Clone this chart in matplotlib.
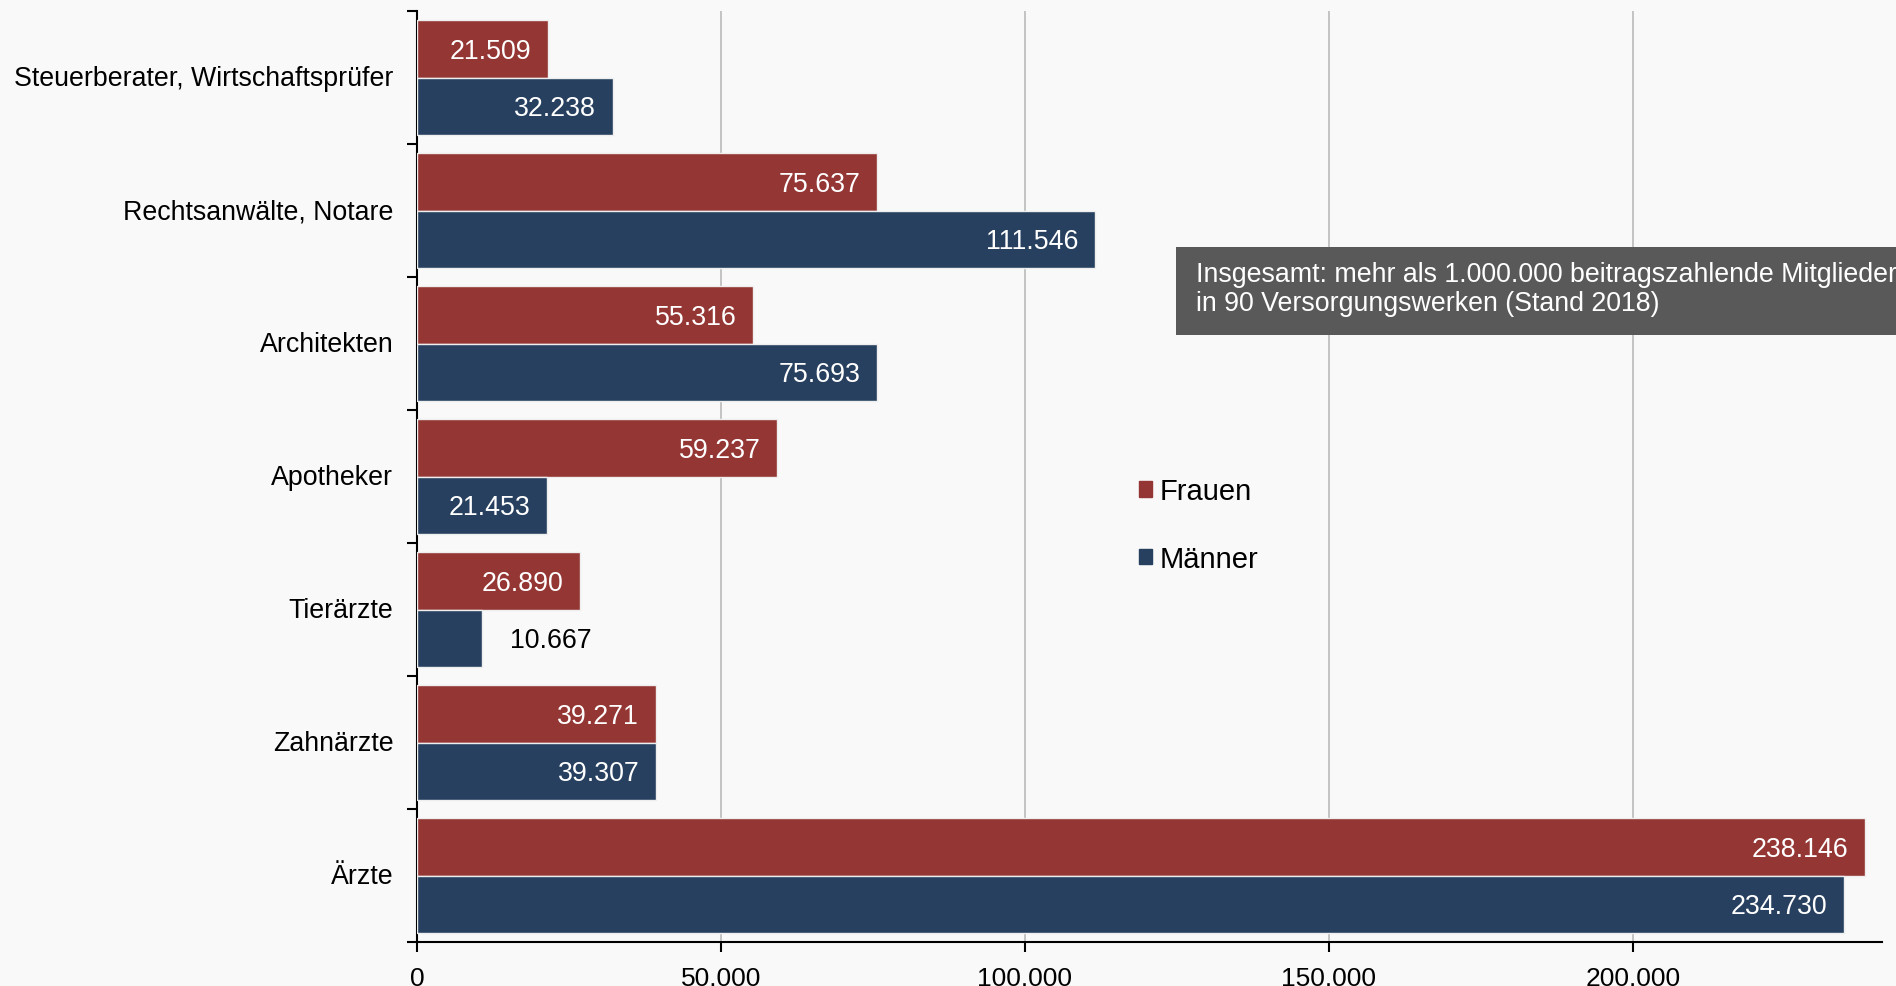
import numpy as np
import matplotlib
matplotlib.use('Agg')
import matplotlib.pyplot as plt
from matplotlib.patches import Patch, Rectangle
from matplotlib.transforms import ScaledTranslation

plt.rcParams['font.family'] = ['Liberation Sans', 'DejaVu Sans']

# Data
categories = ['Steuerberater, Wirtschaftsprüfer', 'Rechtsanwälte, Notare', 'Architekten',
              'Apotheker', 'Tierärzte', 'Zahnärzte', 'Ärzte']
frauen = [21509, 75637, 55316, 59237, 26890, 39271, 238146]
maenner = [32238, 111546, 75693, 21453, 10667, 39307, 234730]
x_ticks = [0, 50000, 100000, 150000, 200000]
note_lines = ['Insgesamt: mehr als 1.000.000 beitragszahlende Mitglieder',
              'in 90 Versorgungswerken (Stand 2018)']

RED = '#943634'
BLUE = '#27405f'
BG = '#f9f9f9'
FS = 19.3


def fmt(v):
    return f'{v:,}'.replace(',', '.')


fig = plt.figure(figsize=(18.96, 9.87), dpi=100, facecolor=BG)
ax = fig.add_axes([417 / 1896, 1 - 943 / 987, (1882 - 417) / 1896, (943 - 12) / 987])
ax.set_facecolor(BG)

y = np.arange(len(categories))
h = 0.43
bars_f = ax.barh(y - h / 2, frauen, height=h, color=RED, edgecolor='#eeeeee', linewidth=1, zorder=3)
bars_m = ax.barh(y + h / 2, maenner, height=h, color=BLUE, edgecolor='#eeeeee', linewidth=1, zorder=3)

for bars, vals in [(bars_f, frauen), (bars_m, maenner)]:
    for b, v in zip(bars, vals):
        yc = b.get_y() + b.get_height() / 2
        if v > 15000:
            ax.annotate(fmt(v), (v, yc), xytext=(-12, -1.3), textcoords='offset points',
                        ha='right', va='center', color='white', fontsize=FS, zorder=4)
        else:
            ax.annotate(fmt(v), (v, yc), xytext=(20, -1.3), textcoords='offset points',
                        ha='left', va='center', color='black', fontsize=FS, zorder=4)

ax.set_ylim(len(categories) - 0.5, -0.5)
ax.set_xlim(0, 241000)

# category boundaries as major ticks, labels on minor ticks
ax.set_yticks(np.arange(-0.5, len(categories)), labels=[])
ax.set_yticks(y, labels=categories, minor=True)
ax.tick_params(axis='y', which='major', length=7, width=1.5, direction='out')
ax.tick_params(axis='y', which='minor', length=0, pad=17, labelsize=FS)
shift = ScaledTranslation(0, 2.5 / 100, fig.dpi_scale_trans)
for lab in ax.yaxis.get_minorticklabels():
    lab.set_transform(lab.get_transform() + shift)

ax.set_xticks(x_ticks, labels=[fmt(t) for t in x_ticks])
ax.tick_params(axis='x', length=7, width=1.5, direction='out', pad=10, labelsize=19)

ax.grid(axis='x', color='#bfbfbf', linewidth=1.3, zorder=0)
ax.set_axisbelow(True)
for s in ['top', 'right']:
    ax.spines[s].set_visible(False)
for s in ['left', 'bottom']:
    ax.spines[s].set_linewidth(1.5)
    ax.spines[s].set_color('black')

handles = [Patch(color=RED, label='Frauen'), Patch(color=BLUE, label='Männer')]
fig.legend(handles=handles, loc='center left', bbox_to_anchor=(1139 / 1896, 1 - 526 / 987),
           frameon=False, fontsize=21, handlelength=0.45, handleheight=0.45,
           handletextpad=0.25, labelspacing=1.36, borderpad=0, borderaxespad=0)

# note box
fig.patches.append(Rectangle((1176 / 1896, 1 - 336 / 987), 0.5, 88 / 987,
                             transform=fig.transFigure, facecolor='#595959',
                             edgecolor='none', zorder=5))
fig.text(1196 / 1896, 1 - 290 / 987, '\n'.join(note_lines), color='white', fontsize=FS,
         ha='left', va='center', linespacing=1.15, zorder=6)

fig.savefig('out.png', dpi=100, facecolor=BG)
